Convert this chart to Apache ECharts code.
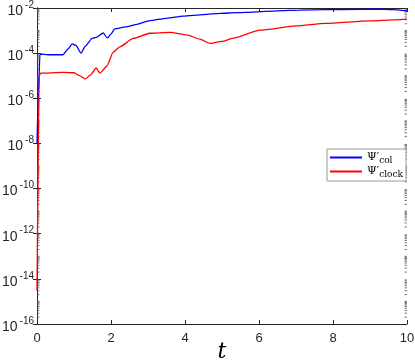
<!DOCTYPE html>
<html>
<head>
<meta charset="utf-8">
<script src="https://cdn.jsdelivr.net/npm/echarts@6/dist/echarts.min.js"></script>
<style>
html, body { margin: 0; padding: 0; background: #fff; }
#chartmain { width: 415px; height: 361px; }
</style>
</head>
<body>
<div id="chartmain"></div>
<script>
// data
var tCol = [0, 0.04, 0.08, 0.3, 0.7, 0.85, 0.95, 1.05, 1.19, 1.3, 1.49, 1.6, 1.79, 1.9, 2.0, 2.1, 2.4, 2.7, 3.05, 3.5, 3.95, 4.5, 4.95, 5.4, 5.84, 6.5, 7.1, 7.8, 8.7, 9.2, 9.6, 10];
var psiCol = [1e-8, 2e-6, 9e-5, 8.5e-5, 8.5e-5, 1.6e-4, 2.6e-4, 2.2e-4, 1e-4, 2e-4, 4.5e-4, 5e-4, 7.8e-4, 4.7e-4, 7e-4, 1.2e-3, 1.45e-3, 1.9e-3, 2.75e-3, 3.5e-3, 4.4e-3, 5.1e-3, 5.8e-3, 6.2e-3, 6.6e-3, 7.5e-3, 8.1e-3, 8.4e-3, 8.7e-3, 8.9e-3, 8.4e-3, 7.4e-3];
var tClock = [0, 0.06, 0.1, 0.7, 1.0, 1.15, 1.3, 1.45, 1.6, 1.7, 1.89, 2.06, 2.24, 2.6, 3.05, 3.6, 4.05, 4.4, 4.68, 5.0, 5.3, 6.03, 7.0, 7.8, 9.0, 10];
var psiClock = [3e-15, 1e-5, 1.3e-5, 1.4e-5, 1.35e-5, 1.0e-5, 7.2e-6, 1.1e-5, 2.2e-5, 1.3e-5, 2.7e-5, 1.1e-4, 1.9e-4, 4.5e-4, 7.6e-4, 8.3e-4, 6.4e-4, 4.2e-4, 2.7e-4, 3.3e-4, 4.6e-4, 1.05e-3, 1.6e-3, 2.1e-3, 2.7e-3, 3.2e-3];
var xTicks = [0, 2, 4, 6, 8, 10];
var yExps = [-16, -14, -12, -10, -8, -6, -4, -2];
var legendSubs = { col: 'col', clock: 'clock' };

function pairs(xs, ys) {
	var out = [];
	for (var i = 0; i < xs.length; i++) out.push([xs[i], ys[i]]);
	return out;
}

// minor tick values of the log axis (every decade, 1..9)
var minorTicks = [];
for (var e = -16; e < -2; e++) {
	for (var k = 1; k <= 9; k++) {
		if (k == 1 && (e % 2) == 0) continue;
		minorTicks.push([0, k * Math.pow(10, e)]);
	}
}

var axisColor = '#262626';
var option = {
	animation: false,
	grid: { left: 37, right: 8, top: 8, bottom: 37, outerBoundsMode: 'none', containLabel: false },
	legend: {
		orient: 'vertical',
		left: 327,
		top: 149,
		padding: [3, 3, 2, 3],
		itemGap: 1,
		itemWidth: 32,
		itemHeight: 12,
		borderColor: '#999',
		borderWidth: 1,
		backgroundColor: '#fff',
		data: [
			{ name: 'col', icon: 'path://M0,5 L32,5 L32,7 L0,7 Z' },
			{ name: 'clock', icon: 'path://M0,5 L32,5 L32,7 L0,7 Z' }
		],
		formatter: function (name) {
			return '{p|Ψ′}{s|' + legendSubs[name] + '}';
		},
		textStyle: {
			rich: {
				p: { fontFamily: 'DejaVu Serif', fontSize: 11, color: '#000' },
				s: { fontFamily: 'DejaVu Serif', fontSize: 9, color: '#000', padding: [6, 0, 0, 0] }
			}
		}
	},
	xAxis: [{
		type: 'value',
		min: 0, max: 10, interval: 2,
		name: 't',
		nameLocation: 'middle',
		nameGap: 17,
		nameMoveOverlap: false,
		nameTextStyle: { fontFamily: 'DejaVu Serif', fontStyle: 'italic', fontSize: 22, color: '#000' },
		axisLine: { lineStyle: { color: axisColor, width: 1 } },
		axisTick: { inside: true, length: 4, lineStyle: { color: axisColor } },
		axisLabel: { fontFamily: 'Liberation Sans', fontSize: 13, color: '#262626', margin: 8 },
		splitLine: { show: false }
	}, {
		type: 'value', position: 'top',
		min: 0, max: 10, interval: 2,
		axisLine: { onZero: false, lineStyle: { color: axisColor, width: 1 } },
		axisTick: { inside: true, length: 4, lineStyle: { color: axisColor } },
		axisLabel: { show: false },
		splitLine: { show: false }
	}],
	yAxis: [{
		type: 'log',
		logBase: 10,
		min: 1e-16, max: 1e-2, interval: 2,
		axisLine: { show: true, lineStyle: { color: axisColor, width: 1 } },
		axisTick: { inside: true, length: 4, lineStyle: { color: axisColor } },
		axisLabel: {
			margin: 3,
			formatter: function (v) {
				var e = Math.round(Math.log10(v));
				return '{b|10}{e|' + e + '}';
			},
			rich: {
				b: { fontFamily: 'Liberation Sans', fontSize: 14, color: '#262626', padding: [6, 0, 0, 0] },
				e: { fontFamily: 'Liberation Sans', fontSize: 10, color: '#262626', padding: [0, 0, 6, 2] }
			}
		},
		splitLine: { show: false }
	}, {
		type: 'log',
		logBase: 10,
		position: 'right',
		min: 1e-16, max: 1e-2, interval: 2,
		axisLine: { show: true, lineStyle: { color: axisColor, width: 1 } },
		axisTick: { inside: true, length: 4, lineStyle: { color: axisColor } },
		axisLabel: { show: false },
		splitLine: { show: false }
	}],
	series: [{
		name: 'minor',
		type: 'custom',
		silent: true,
		z: 1,
		data: minorTicks,
		renderItem: function (params, api) {
			var a = api.coord([0, api.value(1)]);
			var b = api.coord([10, api.value(1)]);
			var st = { stroke: '#555', lineWidth: 0.8 };
			return {
				type: 'group',
				children: [
					{ type: 'line', shape: { x1: a[0], y1: a[1], x2: a[0] + 2.5, y2: a[1] }, style: st },
					{ type: 'line', shape: { x1: b[0] - 2.5, y1: b[1], x2: b[0], y2: b[1] }, style: st }
				]
			};
		}
	}, {
		name: 'col',
		type: 'line',
		data: pairs(tCol, psiCol),
		showSymbol: false,
		smooth: 0.2,
		smoothMonotone: 'x',
		lineStyle: { color: '#0000ff', width: 1.3 },
		itemStyle: { color: '#0000ff' }
	}, {
		name: 'clock',
		type: 'line',
		data: pairs(tClock, psiClock),
		showSymbol: false,
		smooth: 0.2,
		smoothMonotone: 'x',
		lineStyle: { color: '#ff0000', width: 1.3 },
		itemStyle: { color: '#ff0000' }
	}]
};

var myChart = echarts.init(document.getElementById('chartmain'));
myChart.setOption(option);
</script>
</body>
</html>
